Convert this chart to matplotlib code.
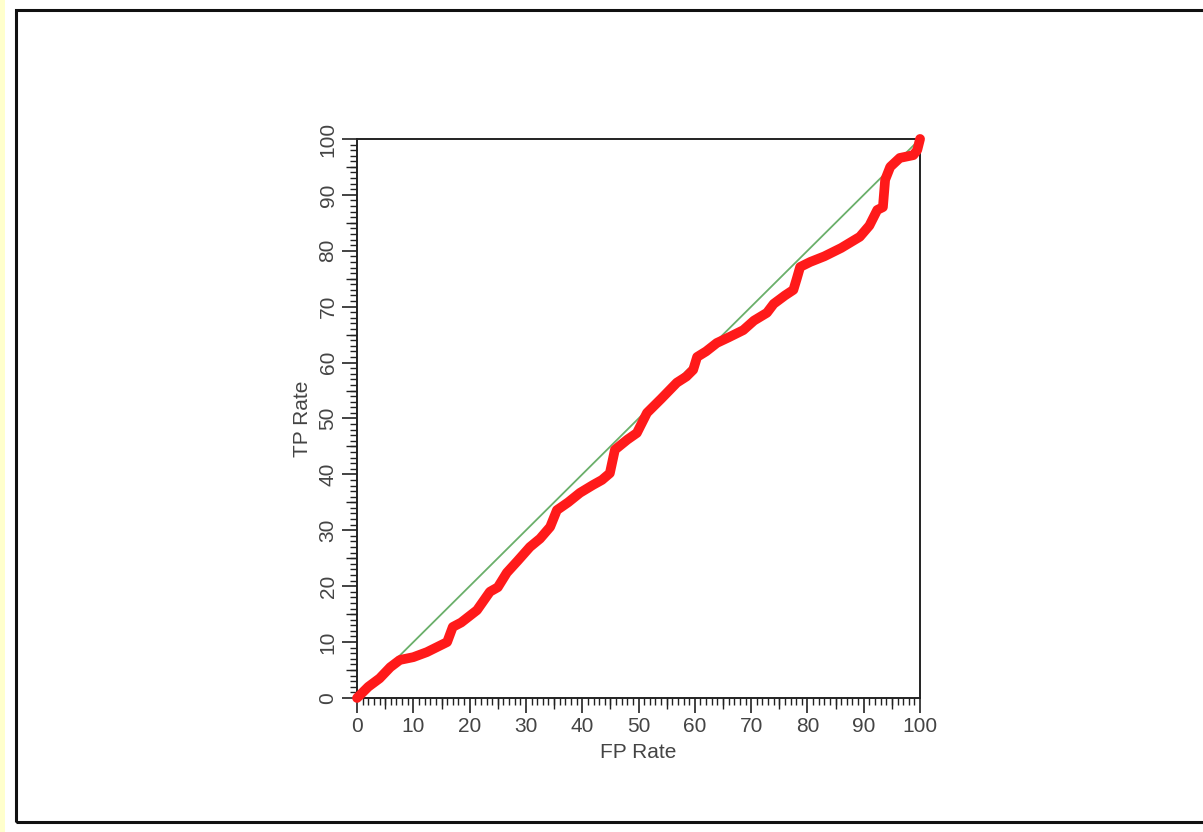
import matplotlib.pyplot as plt
from matplotlib.patches import Rectangle
from matplotlib.ticker import MultipleLocator, FixedLocator

plt.rcParams['font.family'] = ['Liberation Sans', 'DejaVu Sans']

# ROC curve (percent)
fp_rate = [0, 2, 4, 5.9, 7.6, 10, 12.4, 14, 16, 17, 18.5, 21.3, 23.6, 25, 26.6, 28.5,
           30.7, 32.5, 34.3, 35.5, 37.5, 39.6, 41.9, 43.5, 44.9, 45.8, 48, 49.7, 51.5,
           54, 56.8, 58.5, 59.7, 60.4, 62, 63.9, 66, 68.6, 70.5, 72.8, 74, 76, 77.5,
           78.1, 78.7, 80.5, 83, 86, 89.3, 91, 92.4, 93.4, 93.8, 94.7, 96.4, 98.8, 99.5, 100]
tp_rate = [0, 2, 3.5, 5.5, 6.8, 7.3, 8.2, 9, 10, 12.7, 13.5, 15.7, 19, 19.8, 22.4, 24.5,
           27, 28.5, 30.6, 33.6, 35, 36.7, 38.1, 39, 40.2, 44.4, 46.2, 47.4, 51,
           53.5, 56.4, 57.5, 58.7, 61, 62, 63.5, 64.5, 65.8, 67.5, 68.9, 70.5, 72, 73,
           75, 77.1, 78, 79, 80.5, 82.5, 84.5, 87.3, 87.8, 92.7, 95, 96.6, 97.1, 98, 100]
diag = [0, 100]

fig = plt.figure(figsize=(12.03, 8.32), dpi=100)
fig.patches.append(Rectangle((0, 0), 0.004, 1, transform=fig.transFigure,
                             facecolor='#ffffcc', edgecolor='none', zorder=-2))
fig.patches.append(Rectangle((0.0133, 0.012), 1.1, 0.976, transform=fig.transFigure,
                             facecolor='none', edgecolor='#111111', linewidth=2.2, zorder=-1))

pos = [0.2968, 0.1611, 0.468, 0.6719]
ax = fig.add_axes(pos)
ax.plot(diag, diag, color='#6aaf6a', linewidth=1.3, zorder=2)
ax.plot(fp_rate, tp_rate, color='#ff1a1a', linewidth=7, solid_capstyle='round',
        solid_joinstyle='round', zorder=3, clip_on=False)
ax.set_xlim(0, 100)
ax.set_ylim(0, 100)
ax.xaxis.set_major_locator(MultipleLocator(10))
ax.yaxis.set_major_locator(MultipleLocator(10))
ax.xaxis.set_minor_locator(MultipleLocator(1))
ax.yaxis.set_minor_locator(MultipleLocator(1))
ax.tick_params(which='major', length=11, width=1.2, color='#222222', labelsize=15,
               labelcolor='#444444', pad=3)
ax.tick_params(which='minor', length=5, width=1, color='#222222')
for lab in ax.get_yticklabels():
    lab.set_rotation(90)
    lab.set_va('center')
for s in ax.spines.values():
    s.set_linewidth(1.4)
    s.set_color('#222222')
ax.set_xlabel('FP Rate', fontsize=15, color='#444444', labelpad=5)
ax.set_ylabel('TP Rate', fontsize=15, color='#444444', labelpad=5)

# medium ticks at the fives
ax5 = fig.add_axes(pos, frameon=False)
ax5.set_xlim(0, 100)
ax5.set_ylim(0, 100)
fives = list(range(5, 100, 10))
ax5.xaxis.set_major_locator(FixedLocator(fives))
ax5.yaxis.set_major_locator(FixedLocator(fives))
ax5.tick_params(length=8, width=1, color='#222222', labelbottom=False, labelleft=False)
ax5.patch.set_alpha(0)

fig.savefig('out.png', dpi=100)
